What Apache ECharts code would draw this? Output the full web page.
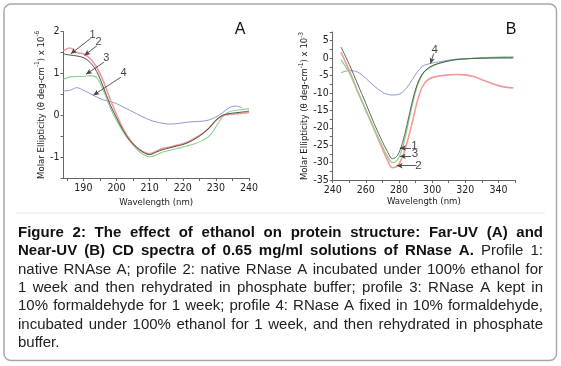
<!DOCTYPE html>
<html><head><meta charset="utf-8">
<script src="https://cdn.jsdelivr.net/npm/echarts@6/dist/echarts.min.js"></script>
<style>html,body{margin:0;padding:0;background:#fff}#c{width:561px;height:366px}</style>
</head><body><div id="c"></div>
<script>
// ---------- Panel A (Far-UV) ----------
const aWave = [184,186,188,190,192,194,196,198,200,202,204,206,208,210,212,214,216,218,220,222,224,226,228,230,232,234,236,238,240];
const aProfile1 = [1.47,1.44,1.42,1.38,1.27,1.05,0.68,0.27,-0.06,-0.36,-0.6,-0.76,-0.88,-0.94,-0.88,-0.82,-0.78,-0.74,-0.7,-0.64,-0.55,-0.44,-0.3,-0.12,0.0,0.04,0.06,0.08,0.1];
const aProfile2 = [1.55,1.61,1.5,1.47,1.36,1.15,0.82,0.4,0.02,-0.32,-0.58,-0.76,-0.87,-0.92,-0.86,-0.79,-0.76,-0.72,-0.68,-0.62,-0.53,-0.43,-0.3,-0.12,-0.01,0.02,0.03,0.05,0.07];
const aProfile3 = [0.86,0.92,0.93,0.93,0.95,0.9,0.6,0.2,-0.12,-0.4,-0.62,-0.8,-0.93,-0.99,-0.95,-0.88,-0.84,-0.8,-0.76,-0.72,-0.67,-0.6,-0.5,-0.28,-0.04,0.08,0.12,0.14,0.16];
const aProfile4 = [0.58,0.6,0.66,0.6,0.52,0.44,0.37,0.33,0.28,0.2,0.12,0.04,-0.04,-0.11,-0.16,-0.19,-0.21,-0.2,-0.18,-0.16,-0.15,-0.14,-0.11,-0.04,0.06,0.18,0.22,0.18,null];
const aXTicks = [185,190,195,200,205,210,215,220,225,230,235,240];
const aXLabels = [190,200,210,220,230,240];
const aYTicks = [-1.5,-1,-0.5,0,0.5,1,1.5,2];
const aYLabels = [-1,0,1,2];
const aAnnotLabels = ['1','2','3','4'];
const aAnnotText = [[192.8,1.93],[194.6,1.75],[196.9,1.38],[202.1,1.01]];
const aAnnotFrom = [[192.2,1.84],[194.0,1.66],[196.2,1.27],[201.3,0.91]];
const aAnnotTo = [[186.2,1.47],[190.3,1.43],[190.8,0.98],[193.0,0.48]];

// ---------- Panel B (Near-UV) ----------
const bWave = [245,250,255,260,265,270,273,276,279,282,285,288,291,294,297,300,305,310,315,320,325,330,335,340,345,349];
const bProfile1 = [3.2,-1.8,-7.4,-13,-18.8,-24,-26.8,-28.9,-28,-24.5,-18.8,-12.5,-7.5,-4.6,-3.1,-2.2,-1.4,-0.8,-0.4,-0.2,-0.1,0,0.05,0.1,0.1,0.1];
const bProfile2 = [1.7,-3.6,-9.5,-15,-20.5,-26,-29.3,-31.5,-31,-28.5,-24,-18.5,-12.5,-8.3,-6.4,-5.6,-5.1,-4.8,-4.7,-4.8,-5.3,-6.2,-7.1,-7.9,-8.4,-8.6];
const bProfile3 = [-0.4,-4.2,-9.5,-14.8,-20.2,-25.3,-28.2,-30,-29.2,-26,-20,-13.5,-8,-4.8,-3.2,-2.3,-1.4,-0.8,-0.4,-0.2,0,0.1,0.2,0.3,0.35,0.4];
const bProfile4 = [-4.2,-3.6,-4,-5.8,-8,-9.8,-10.4,-10.6,-10.5,-9.8,-8.3,-6.2,-4,-2.4,-1.8,-1.4,-1,-0.6,-0.3,-0.2,-0.1,-0.1,0,0,0,0];
const bXTicks = [240,250,260,270,280,290,300,310,320,330,340,350];
const bXLabels = [240,260,280,300,320,340];
const bYTicks = [-35,-32.5,-30,-27.5,-25,-22.5,-20,-17.5,-15,-12.5,-10,-7.5,-5,-2.5,0,2.5,5,7.5];
const bYLabels = [-35,-30,-25,-20,-15,-10,-5,0,5];
const bAnnotLabels = ['4','1','3','2'];
const bAnnotText = [[301.6,2.5],[289.4,-25.1],[289.6,-27.6],[291.8,-30.8]];
const bAnnotFrom = [[300.9,1.3],[287.2,-25.8],[287.2,-28.2],[290.6,-30.9]];
const bAnnotTo = [[299.0,-1.6],[280.5,-25.8],[280.5,-28.2],[278.6,-30.9]];

// ---------- Caption ----------
const captionBold = [
  "Figure 2: The effect of ethanol on protein structure: Far-UV (A) and",
  "Near-UV (B) CD spectra of 0.65 mg/ml solutions of RNase A.",
  "", "", "", "", ""
];
const captionRegular = [
  "",
  "Profile 1:",
  "native RNAse A; profile 2: native RNase A incubated under 100% ethanol for",
  "1 week and then rehydrated in phosphate buffer; profile 3: RNase A kept in",
  "10% formaldehyde for 1 week; profile 4: RNase A fixed in 10% formaldehyde,",
  "incubated under 100% ethanol for 1 week, and then rehydrated in phosphate",
  "buffer."
];

const NARROW = "'Liberation Sans Narrow', 'DejaVu Sans Condensed', 'Liberation Sans', sans-serif";
const SANS = "'Liberation Sans', Arial, sans-serif";

function pairs(xs, ys) { return xs.map((x, i) => [x, ys[i]]); }

function xAxisCfg(gi, min, max, ticks, labels, gap) {
  return {
    type: 'value', gridIndex: gi, min: min, max: max,
    name: 'Wavelength (nm)', nameLocation: 'middle', nameGap: gap,
    nameTextStyle: { fontSize: 9.5, color: '#222', fontFamily: NARROW },
    axisLine: { show: true, onZero: false, lineStyle: { color: '#666', width: 1 } },
    axisTick: { show: true, customValues: ticks, length: 3, lineStyle: { color: '#666' } },
    axisLabel: { customValues: labels, fontSize: 10.5, color: '#222', margin: 5, fontFamily: NARROW },
    splitLine: { show: false }
  };
}
function yAxisCfg(gi, min, max, ticks, labels, exp, gap) {
  return {
    type: 'value', gridIndex: gi, min: min, max: max,
    name: '{n|Molar Ellipticity (θ deg-cm}{s|-1}{n|) x 10}{s|' + exp + '}',
    nameLocation: 'middle', nameGap: gap, nameRotate: 90,
    nameTextStyle: {
      color: '#222', fontFamily: NARROW,
      rich: {
        n: { fontSize: 9.5, color: '#222', fontFamily: NARROW, lineHeight: 12, verticalAlign: 'bottom' },
        s: { fontSize: 6.5, color: '#222', fontFamily: NARROW, lineHeight: 12, verticalAlign: 'top' }
      }
    },
    axisLine: { show: true, onZero: false, lineStyle: { color: '#666', width: 1 } },
    axisTick: { show: true, customValues: ticks, length: 3, lineStyle: { color: '#666' } },
    axisLabel: { customValues: labels, fontSize: 10.5, color: '#222', margin: 4, fontFamily: NARROW },
    splitLine: { show: false }
  };
}
function curve(name, xi, yi, xs, ys, color, width, z) {
  return {
    name: name, type: 'line', xAxisIndex: xi, yAxisIndex: yi,
    data: pairs(xs, ys), showSymbol: false, smooth: 0.35, connectNulls: false,
    lineStyle: { color: color, width: width }, itemStyle: { color: color }, z: z,
    silent: true
  };
}
function annot(xi, yi, labels, textPos, from, to, fs) {
  return {
    type: 'scatter', xAxisIndex: xi, yAxisIndex: yi, symbolSize: 0, z: 10, silent: true,
    data: labels.map((l, i) => ({ name: l, value: textPos[i] })),
    label: { show: true, position: 'inside', formatter: p => p.name, fontSize: fs, color: '#111', fontFamily: SANS },
    markLine: {
      silent: true, animation: false, symbol: ['none', 'arrow'], symbolSize: [4, 6],
      lineStyle: { color: '#444', width: 0.9, type: 'solid' }, label: { show: false },
      data: from.map((f, i) => [{ coord: f }, { coord: to[i] }])
    }
  };
}

// Caption as justified words
const CAP_FS = 15;
const ctx = document.createElement('canvas').getContext('2d');
function wordsOf(i) {
  const w = [];
  captionBold[i].split(' ').filter(s => s).forEach(s => w.push({ t: s, b: true }));
  captionRegular[i].split(' ').filter(s => s).forEach(s => w.push({ t: s, b: false }));
  return w;
}
function measure(t, b) { ctx.font = (b ? 'bold ' : '') + CAP_FS + 'px ' + SANS; return ctx.measureText(t).width; }
const capLeft = 18, capRight = 543, capTop = 233, capStep = 18.3;
const capEls = [];
for (let i = 0; i < captionRegular.length; i++) {
  const ws = wordsOf(i);
  const widths = ws.map(w => measure(w.t, w.b));
  const total = widths.reduce((a, b) => a + b, 0);
  const last = i === captionRegular.length - 1;
  const gap = last ? measure(' ', false) : (capRight - capLeft - total) / (ws.length - 1);
  let x = capLeft;
  ws.forEach((w, k) => {
    capEls.push({
      type: 'text', x: x, y: capTop + i * capStep, silent: true,
      style: { text: w.t, fontSize: CAP_FS, fontWeight: w.b ? 'bold' : 'normal', fontFamily: SANS, fill: w.b ? '#111' : '#222', verticalAlign: 'middle' }
    });
    x += widths[k] + gap;
  });
}

const chart = echarts.init(document.getElementById('c'), null, { renderer: 'canvas' });
chart.setOption({
  animation: false,
  backgroundColor: '#fff',
  grid: [
    { left: 63.5, top: 31.7, width: 185.5, height: 146.3 },
    { left: 332.7, top: 32, width: 182.3, height: 148 }
  ],
  xAxis: [
    xAxisCfg(0, 184, 240, aXTicks, aXLabels, 20),
    xAxisCfg(1, 240, 350, bXTicks, bXLabels, 17)
  ],
  yAxis: [
    yAxisCfg(0, -1.5, 2, aYTicks, aYLabels, '-6', 17),
    yAxisCfg(1, -35, 7.5, bYTicks, bYLabels, '-3', 19)
  ],
  series: [
    curve('A4', 0, 0, aWave, aProfile4, '#8a98d6', 1, 2),
    curve('A3', 0, 0, aWave, aProfile3, '#93cf8e', 1.1, 3),
    curve('A2', 0, 0, aWave, aProfile2, '#f29a9a', 1.6, 4),
    curve('A1', 0, 0, aWave, aProfile1, '#505050', 1, 5),
    curve('B4', 1, 1, bWave, bProfile4, '#8a98d6', 1, 2),
    curve('B2', 1, 1, bWave, bProfile2, '#f29a9a', 1.6, 3),
    curve('B3', 1, 1, bWave, bProfile3, '#93cf8e', 1.3, 4),
    curve('B1', 1, 1, bWave, bProfile1, 'rgba(40,60,40,0.75)', 1, 5),
    annot(0, 0, aAnnotLabels, aAnnotText, aAnnotFrom, aAnnotTo, 11),
    annot(1, 1, bAnnotLabels, bAnnotText, bAnnotFrom, bAnnotTo, 11.5)
  ],
  graphic: [
    { type: 'rect', silent: true, shape: { x: 4, y: 4, width: 552.5, height: 356.5, r: 7 }, style: { fill: 'none', stroke: '#a8a8a8', lineWidth: 1.5 } },
    { type: 'line', silent: true, shape: { x1: 16, y1: 213, x2: 545, y2: 213 }, style: { stroke: '#f1e3e3', lineWidth: 1 } },
    { type: 'text', x: 240, y: 30, silent: true, style: { text: 'A', fontSize: 16, fontFamily: SANS, fill: '#111', align: 'center', verticalAlign: 'middle' } },
    { type: 'text', x: 511, y: 30, silent: true, style: { text: 'B', fontSize: 16, fontFamily: SANS, fill: '#111', align: 'center', verticalAlign: 'middle' } }
  ].concat(capEls)
});
</script>
</body></html>
